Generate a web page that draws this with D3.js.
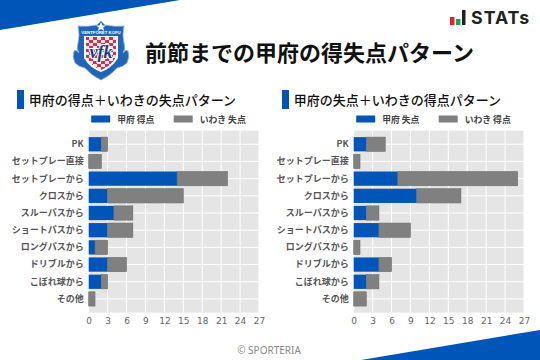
<!DOCTYPE html>
<html>
<head>
<meta charset="utf-8">
<script src="https://cdn.jsdelivr.net/npm/d3@7"></script>
<style>
html, body { margin: 0; padding: 0; background: #fff; }
text { font-family: "Noto Sans CJK JP", "Noto Sans", sans-serif; }
.tick text { font-family: "DejaVu Sans", sans-serif; }
</style>
</head>
<body>
<svg id="chart" width="540" height="360"></svg>
<script>
var categories = ["PK", "セットプレー直接", "セットプレーから", "クロスから", "スルーパスから", "ショートパスから", "ロングパスから", "ドリブルから", "こぼれ球から", "その他"];
var xTicks = [0, 3, 6, 9, 12, 15, 18, 21, 24, 27];

var leftKofu = [2, 0, 14, 3, 4, 3, 1, 3, 2, 0];
var leftIwaki = [1, 2, 8, 12, 3, 4, 2, 3, 1, 1];
var rightKofu = [2, 0, 7, 10, 2, 4, 0, 4, 2, 0];
var rightIwaki = [3, 1, 19, 7, 2, 5, 1, 2, 2, 2];

var blue = "#0055b8";
var grey = "#808080";

var svg = d3.select("#chart");

// corner decorations
svg.append("path").attr("d", d3.line()([[0, 0], [180, 0], [0, 30]])).attr("fill", blue);
svg.append("path").attr("d", d3.line()([[540, 330], [540, 360], [361, 360]])).attr("fill", blue);

// club crest
var crest = svg.append("g").attr("transform", "translate(101,51)");
var defs = svg.append("defs");
var check = defs.append("pattern").attr("id", "check").attr("width", 8).attr("height", 6)
  .attr("patternUnits", "userSpaceOnUse").attr("patternTransform", "translate(-16,-14)");
check.append("rect").attr("width", 8).attr("height", 6).attr("fill", "#f3e6ea");
check.append("rect").attr("x", 0).attr("y", 0).attr("width", 4).attr("height", 3).attr("fill", "#c8324f");
check.append("rect").attr("x", 4).attr("y", 3).attr("width", 4).attr("height", 3).attr("fill", "#c8324f");

// blue outer shield with the side curls
crest.append("path")
  .attr("d", "M0,-30 L4,-26 Q14,-24 23,-25 Q21,-16 23,-8 Q25,-2 22,2 Q25,-2 27,0 Q29,5 26,12 Q22,16 16,17 Q9,25 0,29 Q-9,25 -16,17 Q-22,16 -26,12 Q-29,5 -27,0 Q-25,-2 -22,2 Q-25,-2 -23,-8 Q-21,-16 -23,-25 Q-14,-24 -4,-26 Z")
  .attr("fill", "#1f66b8").attr("stroke", "#8fb6e2").attr("stroke-width", 0.8);
crest.append("path")
  .attr("d", "M-17,-15 H17 V7 Q11,17 0,21 Q-11,17 -17,7 Z").attr("fill", "#fff");
crest.append("path")
  .attr("d", "M-15,-14 H15 V6 Q10,15 0,19 Q-10,15 -15,6 Z").attr("fill", "url(#check)");
crest.append("text").attr("x", 0).attr("y", 7).attr("text-anchor", "middle")
  .attr("font-size", 18).attr("font-weight", 700).attr("font-style", "italic")
  .attr("fill", "#16407f").attr("stroke", "#fff").attr("stroke-width", 1.8).attr("paint-order", "stroke")
  .style("font-family", "'Liberation Serif', serif").text("vfk");
crest.append("text").attr("x", 0).attr("y", -17.5).attr("text-anchor", "middle")
  .attr("font-size", 4.3).attr("font-weight", 700).attr("fill", "#fff")
  .style("font-family", "'Liberation Sans', sans-serif").text("VENTFORET KOFU");
crest.append("path").attr("d", "M0,-29 L1.5,-25.5 L5,-25.5 L2.2,-23.4 L3.2,-20 L0,-22 L-3.2,-20 L-2.2,-23.4 L-5,-25.5 L-1.5,-25.5 Z")
  .attr("fill", "#fff");

// STATs logo
var logoY = d3.scaleLinear().domain([0, 15]).range([25, 10]);
[["#e0202c", 450, 8], ["#22a050", 456, 6], ["#222222", 462, 15]].forEach(function(b) {
  svg.append("rect").attr("x", b[1]).attr("y", logoY(b[2]))
    .attr("width", b[1] == 462 ? 3.5 : 4.5)
    .attr("height", logoY(0) - logoY(b[2])).attr("fill", b[0]);
});
svg.append("text").attr("x", 471).attr("y", 24).attr("font-size", 17.8).attr("font-weight", 700)
  .attr("letter-spacing", 1).attr("fill", "#222").style("font-family", "Inter, sans-serif").text("STATs");

svg.append("text").attr("x", 145).attr("y", 61).attr("font-size", 22).attr("font-weight", 700)
  .attr("fill", "#111").text("前節までの甲府の得失点パターン");

svg.append("text").attr("x", 269).attr("y", 354).attr("text-anchor", "middle").attr("font-size", 10)
  .attr("fill", "#888").style("font-family", "'Noto Sans', sans-serif").text("© SPORTERIA");

function drawPanel(opts) {
  var margin = { top: 130.6, left: opts.left };
  var width = 170.3, height = 182;

  svg.append("rect").attr("x", opts.left - 71.7).attr("y", 90).attr("width", 7).attr("height", 19).attr("fill", blue);
  svg.append("text").attr("x", opts.left - 60).attr("y", 104.5).attr("font-size", 13).attr("font-weight", 500)
    .attr("fill", "#111").text(opts.title);

  // legend
  var legend = svg.append("g").attr("transform", "translate(" + opts.left + ",115)");
  [[2.5, blue, opts.names[0]], [85, grey, opts.names[1]]].forEach(function(d) {
    legend.append("rect").attr("x", d[0]).attr("y", 0.5).attr("width", 19).attr("height", 7).attr("fill", d[1]);
    legend.append("text").attr("x", d[0] + 26).attr("y", 8).attr("font-size", 8.8).attr("font-weight", 700)
      .attr("fill", "#444").text(d[2]);
  });

  var x = d3.scaleLinear().domain([0, 27]).range([0, width]);
  var y = d3.scaleBand().domain(categories).range([0, height]).paddingInner(0.17).paddingOuter(0.38);

  var chart = svg.append("g").attr("transform", "translate(" + margin.left + "," + margin.top + ")");
  chart.append("rect").attr("width", width).attr("height", height).attr("fill", "#e5e5e5");

  chart.selectAll(".vgrid").data(xTicks).enter().append("line")
    .attr("x1", function(d) { return x(d); })
    .attr("x2", function(d) { return x(d); })
    .attr("y2", height).attr("stroke", "#fff").attr("stroke-width", 1);
  chart.selectAll(".hgrid").data(categories).enter().append("line")
    .attr("x2", width)
    .attr("y1", function(d) { return y(d) + y.bandwidth() / 2; })
    .attr("y2", function(d) { return y(d) + y.bandwidth() / 2; })
    .attr("stroke", "#fff").attr("stroke-width", 1);

  chart.selectAll(".bar1").data(categories).enter().append("rect")
    .attr("x", 0)
    .attr("y", function(d) { return y(d); })
    .attr("width", function(d, i) { return x(opts.first[i]); })
    .attr("height", y.bandwidth())
    .attr("fill", blue);
  chart.selectAll(".bar2").data(categories).enter().append("rect")
    .attr("x", function(d, i) { return x(opts.first[i]); })
    .attr("y", function(d) { return y(d); })
    .attr("width", function(d, i) { return x(opts.second[i]); })
    .attr("height", y.bandwidth())
    .attr("fill", grey).attr("stroke", "#6e6e6e").attr("stroke-width", 0.6);

  var xAxis = d3.axisBottom(x).tickValues(xTicks).tickSize(0).tickPadding(5);
  var yAxis = d3.axisLeft(y).tickSize(0).tickPadding(5);

  var gx = chart.append("g").attr("transform", "translate(0," + height + ")").call(xAxis);
  gx.select(".domain").remove();
  gx.selectAll("text").attr("font-size", 9).attr("fill", "#666");

  var gy = chart.append("g").call(yAxis);
  gy.select(".domain").remove();
  gy.selectAll("text").style("font-family", "'Noto Sans CJK JP', sans-serif")
    .attr("font-size", 9).attr("font-weight", 700).attr("fill", "#555");
}

drawPanel({
  left: 88.7,
  title: "甲府の得点＋いわきの失点パターン",
  names: ["甲府 得点", "いわき 失点"],
  first: leftKofu,
  second: leftIwaki
});
drawPanel({
  left: 353.7,
  title: "甲府の失点＋いわきの得点パターン",
  names: ["甲府 失点", "いわき 得点"],
  first: rightKofu,
  second: rightIwaki
});
</script>
</body>
</html>
